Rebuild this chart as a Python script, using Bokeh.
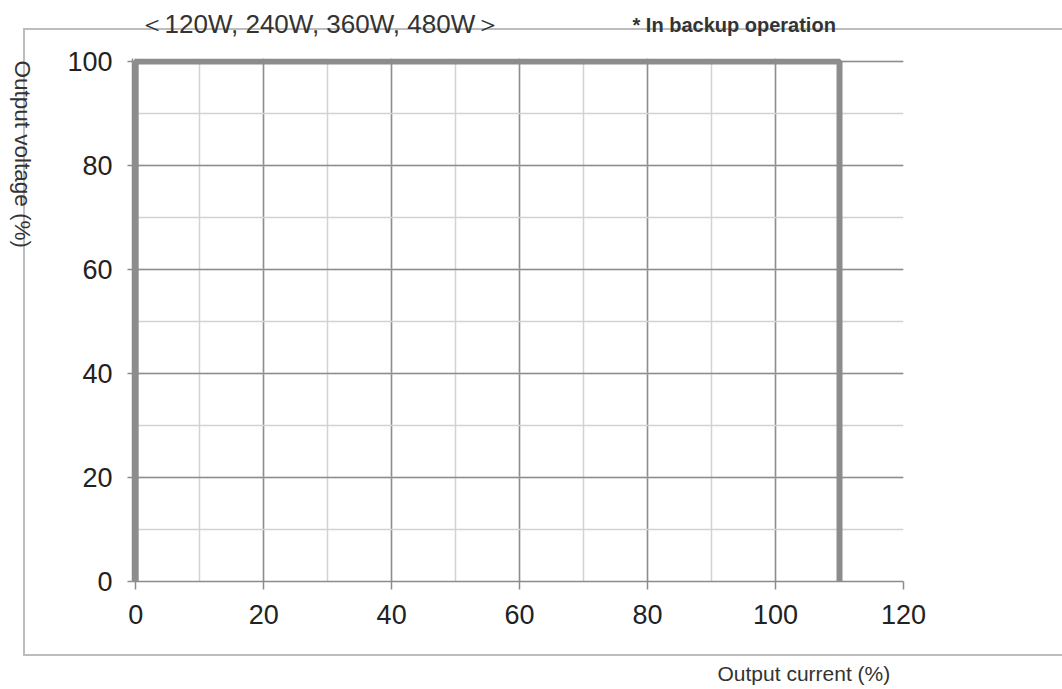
import math
from bokeh.plotting import figure
from bokeh.models import Range1d, SingleIntervalTicker, Label
from bokeh.embed import file_html
from bokeh.resources import INLINE

# ---- data ----
current = [0, 0, 110, 110]          # Output current (%)
voltage = [0, 100, 100, 0]          # Output voltage (%)
x_tick_step = 20
y_tick_step = 20
title_text = "＜120W, 240W, 360W, 480W＞"
note_text = "* In backup operation"
x_label = "Output current (%)"
y_label = "Output voltage (%)"

FONT = "Liberation Sans"
GRID_MAJOR = "#8e8e8e"
GRID_MINOR = "#d2d2d2"
LINE_COLOR = "#8c8c8c"
TEXT_COLOR = "#333333"
BOX = "#bdbdbd"

p = figure(
    width=1062, height=689,
    frame_width=771, frame_height=523,
    min_border_left=132, min_border_right=159,
    min_border_top=58, min_border_bottom=108,
    x_range=Range1d(-0.5, 120), y_range=Range1d(0, 100.6),
    output_backend="svg", toolbar_location=None,
    background_fill_color="white", border_fill_color=None,
)
p.outline_line_color = None
# thin outer frame of the original figure (drawn behind the transparent canvas border)
p.styles = {
    "background": (
        f"linear-gradient({BOX},{BOX}) 24px 28px / 1100px 2px no-repeat, "
        f"linear-gradient({BOX},{BOX}) 23px 28px / 2px 628px no-repeat, "
        f"linear-gradient({BOX},{BOX}) 24px 654px / 1100px 2px no-repeat, white"
    )
}

xt = SingleIntervalTicker(interval=x_tick_step, num_minor_ticks=2)
yt = SingleIntervalTicker(interval=y_tick_step, num_minor_ticks=2)
p.xaxis.ticker = xt
p.yaxis.ticker = yt
p.xgrid.ticker = xt
p.ygrid.ticker = yt

for g in (p.xgrid, p.ygrid):
    g.grid_line_color = GRID_MAJOR
    g.grid_line_width = 1.5
    g.minor_grid_line_color = GRID_MINOR
    g.minor_grid_line_width = 1.5

for ax in (p.xaxis, p.yaxis):
    ax.axis_line_color = LINE_COLOR
    ax.axis_line_width = 1.5
    ax.major_tick_line_color = LINE_COLOR
    ax.major_tick_line_width = 1.5
    ax.major_tick_in = 0
    ax.minor_tick_line_color = None
    ax.major_label_text_font = FONT
    ax.major_label_text_font_size = "27px"
    ax.major_label_text_color = "#222222"

p.xaxis.major_tick_out = 8
p.yaxis.major_tick_out = 5
p.xaxis.major_label_standoff = 15
p.yaxis.major_label_standoff = 15

# the characteristic line
p.line(current, voltage, line_color=LINE_COLOR, line_width=6)

# texts in side panels (screen units relative to each panel)
p.add_layout(Label(x=6, y=35, x_units="screen", y_units="screen", text=title_text,
                   text_font=FONT, text_font_size="26px", text_color=TEXT_COLOR,
                   text_baseline="alphabetic"), "above")
p.add_layout(Label(x=500, y=4, x_units="screen", y_units="screen", text=note_text,
                   text_font=FONT, text_font_size="20px", text_font_style="bold",
                   text_color=TEXT_COLOR, text_baseline="alphabetic"), "above")
p.add_layout(Label(x=-881, y=521, x_units="screen", y_units="screen", text=y_label,
                   text_font=FONT, text_font_size="22.5px", text_color=TEXT_COLOR,
                   angle=-math.pi / 2, text_align="left", text_baseline="middle"), "right")
p.add_layout(Label(x=585, y=-24, x_units="screen", y_units="screen", text=x_label,
                   text_font=FONT, text_font_size="21px", text_color=TEXT_COLOR,
                   text_baseline="alphabetic"), "below")

open("out.html", "w").write(file_html(p, INLINE))
